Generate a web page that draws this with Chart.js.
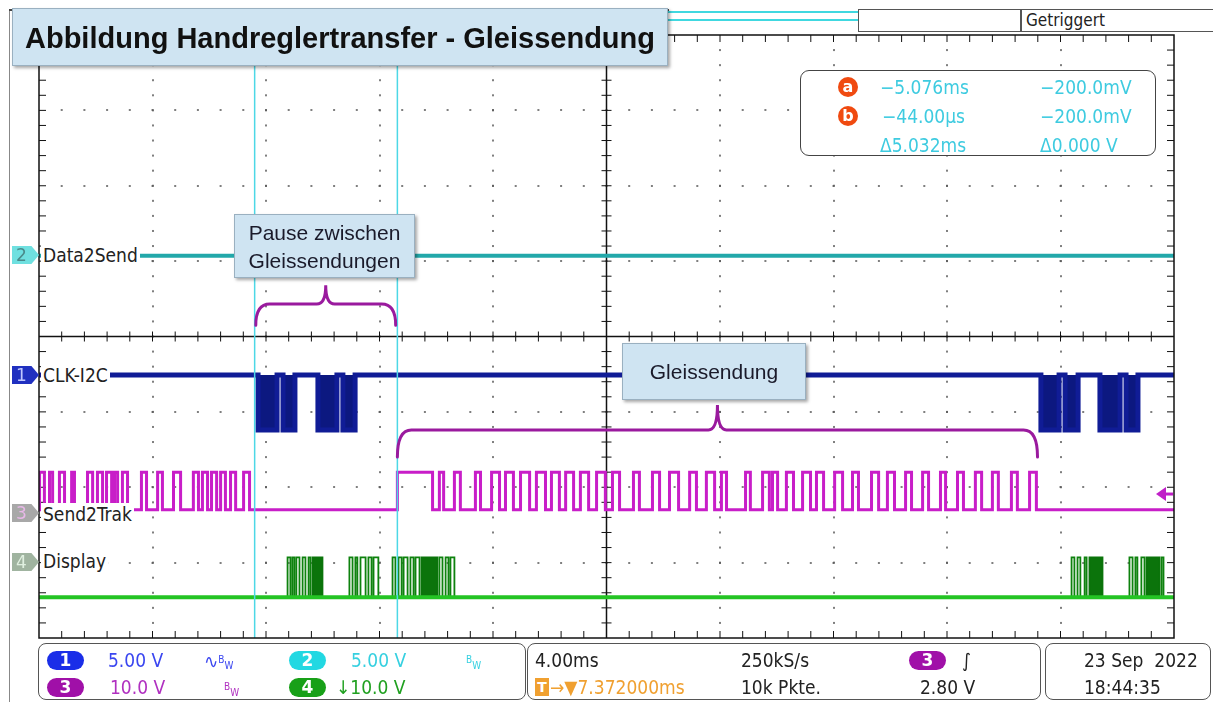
<!DOCTYPE html>
<html>
<head>
<meta charset="utf-8">
<script src="https://cdn.jsdelivr.net/npm/chart.js@4.4.1/dist/chart.umd.min.js"></script>
<style>
  body { margin: 0; background: #fff; width: 1213px; height: 702px; overflow: hidden; position: relative; }
  canvas { position: absolute; left: 0; top: 0; }
  .t { position: absolute; font: 19px/22px "DejaVu Sans Condensed", "DejaVu Sans", sans-serif; white-space: nowrap; color: #222; }
  .lbl { position: absolute; font: 19px/22px "DejaVu Sans Condensed", "DejaVu Sans", sans-serif; white-space: nowrap; color: #222; background: #fff; padding: 0 2px; }
  .pill { position: absolute; width: 37px; height: 19px; border-radius: 10px; color: #fff; font: bold 17px/19px "DejaVu Sans", sans-serif; text-align: center; }
  .sbox { position: absolute; border: 1.5px solid #555; border-radius: 8px; background: #fff; }
  .note { position: absolute; background: #cfe4f2; border: 1.5px solid #9ab0c0; box-shadow: 2px 2px 3px rgba(0,0,0,.35);
          font: 21px/28px "Liberation Sans", Arial, sans-serif; color: #1a1a2a; text-align: center; }
  .mark { position: absolute; width: 27px; height: 18px; font: 17px/18px "DejaVu Sans", sans-serif; padding-left: 4px; box-sizing: border-box;
          clip-path: polygon(0 0, 72% 0, 100% 50%, 72% 100%, 0 100%); }
  .cur { position: absolute; width: 20px; height: 20px; border-radius: 50%; background: #f04a10; color: #fff; font: bold 16px/19px "DejaVu Sans", sans-serif; text-align: center; }
  .ro { color: #3ecbe0; }
</style>
</head>
<body>
<canvas id="scope" width="1213" height="702"></canvas>

<!-- top bar -->
<div style="position:absolute;left:9px;top:9px;width:1px;height:693px;background:#888"></div>
<div style="position:absolute;left:9px;top:9px;width:660px;height:1.5px;background:#444"></div>
<div style="position:absolute;left:660px;top:11px;width:198px;height:6px;border-top:2px solid #40d8e0;border-bottom:2px solid #40d8e0"></div>
<div style="position:absolute;left:858px;top:9px;width:355px;height:21px;border:1.5px solid #555;border-right:none;background:#fff"></div>
<div style="position:absolute;left:1020px;top:9px;width:1.5px;height:22px;background:#555"></div>
<div class="t" style="left:1026px;top:9px;font-size:17px;line-height:22px">Getriggert</div>

<div class="note" style="left:12px;top:8px;width:656px;height:58px;text-align:left;font:bold 29px/58px 'Liberation Sans',Arial,sans-serif;color:#111;padding-left:12px;box-sizing:border-box">Abbildung Handreglertransfer - Gleissendung</div>

<!-- cursor readout -->
<div style="position:absolute;left:800px;top:70px;width:354px;height:84px;border:1.5px solid #444;border-radius:9px;background:#fff"></div>
<div class="cur" style="left:838px;top:77px">a</div>
<div class="cur" style="left:838px;top:106px">b</div>
<div class="t ro" style="left:880px;top:76px">−5.076ms</div>
<div class="t ro" style="left:882px;top:105px">−44.00µs</div>
<div class="t ro" style="left:880px;top:134px">Δ5.032ms</div>
<div class="t ro" style="left:1040px;top:76px">−200.0mV</div>
<div class="t ro" style="left:1040px;top:105px">−200.0mV</div>
<div class="t ro" style="left:1040px;top:134px">Δ0.000 V</div>

<!-- annotations -->
<div class="note" style="left:234px;top:214px;width:181px;height:64px;padding-top:4px;box-sizing:border-box">Pause zwischen<br>Gleissendungen</div>
<div class="note" style="left:622px;top:343px;width:182px;height:55px;line-height:55px">Gleissendung</div>

<!-- channel markers and labels -->
<div class="mark" style="left:12px;top:246px;background:#6fe0e0;color:#4a8a8a">2</div>
<div class="mark" style="left:12px;top:366px;background:#2030c0;color:#c0c8ff">1</div>
<div class="mark" style="left:12px;top:504px;background:#a8a8a8;color:#e8b8e8">3</div>
<div class="mark" style="left:12px;top:553px;background:#a0b4a0;color:#e0f0e0">4</div>
<div class="lbl" style="left:41px;top:244px">Data2Send</div>
<div class="lbl" style="left:41px;top:364px">CLK-I2C</div>
<div class="lbl" style="left:41px;top:503px">Send2Trak</div>
<div class="lbl" style="left:41px;top:550px">Display</div>

<!-- status bar -->
<div class="sbox" style="left:38px;top:643px;width:486px;height:55px"></div>
<div class="sbox" style="left:527px;top:643px;width:512px;height:55px"></div>
<div class="sbox" style="left:1045px;top:643px;width:164px;height:55px"></div>

<div class="pill" style="left:47px;top:651px;background:#1a2ee8">1</div>
<div class="t" style="left:108px;top:649px;color:#3a46f0">5.00 V</div>
<div class="t" style="left:204px;top:649px;color:#3a46f0">∿<span style="font-size:10px;vertical-align:5px">B</span><span style="font-size:10px;vertical-align:-1px">W</span></div>
<div class="pill" style="left:289px;top:651px;background:#22d8e2">2</div>
<div class="t" style="left:351px;top:649px;color:#36d0e0">5.00 V</div>
<div class="t" style="left:466px;top:649px;color:#36d0e0"><span style="font-size:10px;vertical-align:5px">B</span><span style="font-size:10px;vertical-align:-1px">W</span></div>

<div class="pill" style="left:47px;top:678px;background:#a010a8">3</div>
<div class="t" style="left:110px;top:676px;color:#b030c0">10.0 V</div>
<div class="t" style="left:224px;top:676px;color:#b030c0"><span style="font-size:10px;vertical-align:5px">B</span><span style="font-size:10px;vertical-align:-1px">W</span></div>
<div class="pill" style="left:289px;top:678px;background:#18a018">4</div>
<div class="t" style="left:336px;top:676px;color:#20a020">↓10.0 V</div>

<div class="t" style="left:535px;top:649px">4.00ms</div>
<div class="t" style="left:741px;top:649px">250kS/s</div>
<div class="pill" style="left:909px;top:651px;background:#a010a8">3</div>
<div class="t" style="left:962px;top:649px">∫</div>
<div style="position:absolute;left:535px;top:678px;width:14px;height:18px;background:#f0a030;color:#fff;font:bold 14px/18px 'DejaVu Sans',sans-serif;text-align:center">T</div>
<div class="t" style="left:550px;top:676px;color:#f0a030">→▼7.372000ms</div>
<div class="t" style="left:741px;top:676px">10k Pkte.</div>
<div class="t" style="left:920px;top:676px">2.80 V</div>

<div class="t" style="left:1084px;top:649px">23 Sep&nbsp; 2022</div>
<div class="t" style="left:1084px;top:676px">18:44:35</div>

<script>
// time axis in ms (4.00 ms/div, 10 div), vertical axis in divisions (8 div)
const xMin = -20, xMax = 20;
const yMin = 0, yMax = 8;

// trace levels in divisions [low, high]
const data2sendLevel = 5.07;
const clkLevels = [2.76, 3.49];
const send2trakLevels = [1.70, 2.20];
const displayLevels = [0.54, 1.07];

// CLK-I2C bursts (line pulled low), ms
const clkBursts = [
  [-12.28, -11.61], [-11.40, -10.98], [-10.17, -9.50], [-9.29, -8.86],
  [15.31, 15.95], [16.16, 16.62], [17.39, 18.10], [18.31, 18.73]
];

// Send2Trak high pulses, ms
const send2trakPulses = [
  [-19.98, -19.81], [-19.63, -19.52], [-19.28, -19.10], [-18.85, -18.75],
  [-18.29, -18.11], [-17.94, -17.76], [-17.62, -17.44], [-17.34, -17.23], [-17.06, -16.88],
  [-16.39, -16.21], [-15.82, -15.65], [-15.26, -15.01], [-14.56, -14.38], [-14.24, -14.06],
  [-13.92, -13.74], [-13.60, -13.43], [-13.25, -13.07], [-12.79, -12.58],
  [-7.37, -6.13],
  [-5.89, -5.74], [-5.36, -5.15], [-4.62, -4.44], [-4.05, -3.77], [-3.56, -3.28],
  [-3.03, -2.71], [-2.47, -2.15], [-1.94, -1.66], [-1.44, -1.16], [-0.92, -0.63],
  [-0.35, -0.04], [0.21, 0.46], [0.95, 1.16], [1.62, 1.87], [2.22, 2.54],
  [2.93, 3.17], [3.52, 3.81], [4.05, 4.23], [4.90, 5.07], [5.50, 5.74],
  [5.85, 6.03], [6.34, 6.59], [6.91, 7.19], [7.40, 7.65], [8.04, 8.32],
  [8.67, 8.88], [9.34, 9.59], [9.90, 10.15], [10.54, 10.75], [11.14, 11.35],
  [11.77, 11.95], [12.37, 12.58], [13.00, 13.22], [13.60, 13.81], [14.27, 14.48],
  [14.91, 15.15]
];

// Display: single pulses and dense bursts, ms
const displayPulses = [
  [-11.24, -11.14], [-11.07, -11.00], [-10.93, -10.82], [-10.71, -10.61], [-10.50, -10.43],
  [-9.06, -8.95], [-8.85, -8.78], [-8.67, -8.49], [-8.39, -8.28], [-8.21, -8.04],
  [-7.54, -7.44], [-7.33, -7.22], [-7.15, -7.01], [-6.91, -6.80], [-6.73, -6.59],
  [-5.89, -5.78], [-5.67, -5.57], [-5.50, -5.36],
  [16.39, 16.49], [16.60, 16.70], [16.85, 16.92],
  [18.43, 18.54], [18.64, 18.71], [18.85, 18.96], [19.56, 19.63]
];
const displayBursts = [[-10.36, -10.01], [-6.52, -5.96], [17.02, 17.48], [19.03, 19.49]];

// cursors a/b, ms
const cursorTimes = [-12.40, -7.37];
// brackets: from, to (ms); end, mid, peak (div)
const braces = [
  { from: -12.36, to: -7.43, end: 4.15, mid: 4.43, peak: 4.68 },
  { from: -7.37, to: 15.19, end: 2.40, mid: 2.76, peak: 3.09 }
];
const trigLevel = 1.91;

function pulseTrace(pulses, base, level) {
  const pts = [{ x: xMin, y: base }];
  pulses.forEach(([s, e]) => {
    pts.push({ x: s, y: base }, { x: s, y: level }, { x: e, y: level }, { x: e, y: base });
  });
  pts.push({ x: xMax, y: base });
  return pts;
}
function flat(v) {
  return [{ x: xMin, y: v }, { x: xMax, y: v }];
}

// dotted grid, centre cross and border ticks
const gridPlugin = {
  id: 'scopeGrid',
  beforeDatasetsDraw(chart) {
    const { ctx, chartArea: a, scales: { x, y } } = chart;
    ctx.save();
    ctx.fillStyle = '#555';
    for (let d = 1; d < 10; d++) {
      if (d === 5) continue;
      const px = Math.round(x.getPixelForValue(xMin + d * 4));
      for (let m = 1; m < 40; m++) {
        ctx.fillRect(px - 0.75, y.getPixelForValue(m * 0.2) - 1, 1.5, 2);
      }
    }
    for (let d = 1; d < 8; d++) {
      if (d === 4) continue;
      const py = Math.round(y.getPixelForValue(d));
      for (let m = 1; m < 50; m++) {
        ctx.fillRect(x.getPixelForValue(xMin + m * 0.8) - 1, py - 0.75, 2, 1.5);
      }
    }
    const cx = x.getPixelForValue(0), cy = y.getPixelForValue(4);
    ctx.strokeStyle = '#111';
    ctx.lineWidth = 1.5;
    ctx.beginPath();
    ctx.moveTo(a.left, cy); ctx.lineTo(a.right, cy);
    ctx.moveTo(cx, a.top); ctx.lineTo(cx, a.bottom);
    ctx.stroke();
    ctx.lineWidth = 1;
    ctx.beginPath();
    for (let m = 1; m < 50; m++) {
      const px = x.getPixelForValue(xMin + m * 0.8);
      ctx.moveTo(px, cy - 5); ctx.lineTo(px, cy + 5);
      ctx.moveTo(px, a.bottom); ctx.lineTo(px, a.bottom - 7);
      ctx.moveTo(px, a.top); ctx.lineTo(px, a.top + 7);
    }
    for (let m = 1; m < 40; m++) {
      const py = y.getPixelForValue(m * 0.2);
      ctx.moveTo(cx - 5, py); ctx.lineTo(cx + 5, py);
      ctx.moveTo(a.left, py); ctx.lineTo(a.left + 7, py);
      ctx.moveTo(a.right, py); ctx.lineTo(a.right - 7, py);
    }
    ctx.stroke();
    ctx.restore();
  },
  afterDatasetsDraw(chart) {
    const { ctx, chartArea: a, scales: { x, y } } = chart;
    ctx.save();
    // cursors
    ctx.strokeStyle = '#4dd8e6';
    ctx.lineWidth = 1.5;
    cursorTimes.forEach(t => {
      const px = x.getPixelForValue(t);
      ctx.beginPath(); ctx.moveTo(px, a.top); ctx.lineTo(px, a.bottom); ctx.stroke();
    });
    // braces
    ctx.strokeStyle = '#9a1a9e';
    ctx.lineWidth = 3;
    ctx.lineCap = 'round';
    braces.forEach(b => {
      const x1 = x.getPixelForValue(b.from), x2 = x.getPixelForValue(b.to);
      const ye = y.getPixelForValue(b.end), ym = y.getPixelForValue(b.mid), yp = y.getPixelForValue(b.peak);
      const xc = (x1 + x2) / 2, r = 14;
      ctx.beginPath();
      ctx.moveTo(x1, ye);
      ctx.quadraticCurveTo(x1, ym, x1 + r, ym);
      ctx.lineTo(xc - 9, ym);
      ctx.quadraticCurveTo(xc, ym, xc, yp);
      ctx.quadraticCurveTo(xc, ym, xc + 9, ym);
      ctx.lineTo(x2 - r, ym);
      ctx.quadraticCurveTo(x2, ym, x2, ye);
      ctx.stroke();
    });
    // trigger level arrow (ch3)
    const ty = y.getPixelForValue(trigLevel);
    ctx.fillStyle = '#c020c8';
    ctx.beginPath();
    ctx.moveTo(a.right - 18, ty); ctx.lineTo(a.right - 8, ty - 7); ctx.lineTo(a.right - 8, ty + 7); ctx.closePath();
    ctx.fill();
    ctx.fillRect(a.right - 9, ty - 1.5, 8, 3);
    // frame
    ctx.strokeStyle = '#111';
    ctx.lineWidth = 1.5;
    ctx.strokeRect(a.left, a.top, a.right - a.left, a.bottom - a.top);
    ctx.restore();
  }
};

const line = (data, color, width, extra) => Object.assign({
  data, borderColor: color, backgroundColor: color, borderWidth: width,
  pointRadius: 0, tension: 0, fill: false
}, extra || {});

new Chart(document.getElementById('scope').getContext('2d'), {
  type: 'line',
  data: {
    datasets: [
      line(flat(displayLevels[0]), '#24c424', 4),
      line(pulseTrace(displayPulses, displayLevels[0], displayLevels[1]), '#0e820e', 1.8),
      line(pulseTrace(displayBursts, displayLevels[0], displayLevels[1]), '#0b740b', 1.8, { fill: { value: displayLevels[0] } }),
      line(pulseTrace(send2trakPulses, send2trakLevels[0], send2trakLevels[1]), '#c81ec8', 3),
      line(pulseTrace(clkBursts, clkLevels[1], clkLevels[0]), '#101c96', 5, { fill: { value: clkLevels[1] }, backgroundColor: '#0c1880' }),
      line(flat(data2sendLevel), '#22a8aa', 4)
    ]
  },
  options: {
    responsive: false,
    animation: false,
    events: [],
    layout: { padding: { left: 39, right: 39, top: 35, bottom: 64 } },
    scales: {
      x: { type: 'linear', min: xMin, max: xMax, display: false },
      y: { min: yMin, max: yMax, display: false }
    },
    plugins: { legend: { display: false }, tooltip: { enabled: false } }
  },
  plugins: [gridPlugin]
});
</script>
</body>
</html>
